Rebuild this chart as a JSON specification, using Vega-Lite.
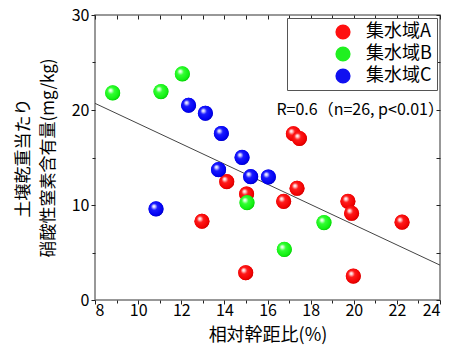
{
  "$schema": "https://vega.github.io/schema/vega-lite/v6.json",
  "width": 345,
  "height": 285,
  "autosize": {"type": "none"},
  "padding": {"left": 95, "top": 15, "right": 10, "bottom": 60},
  "background": "white",
  "config": {
    "font": "Noto Sans CJK JP",
    "view": {"stroke": "#777", "strokeWidth": 1.5},
    "axis": {"grid": false, "domain": false, "tickColor": "#222", "labelColor": "black", "titleColor": "black", "labelFont": "Noto Sans CJK JP", "titleFont": "Noto Sans CJK JP", "titleFontWeight": "normal"}
  },
  "datasets": {
    "pts": [
      {"x": 12.96, "y": 8.29, "g": "集水域A"},
      {"x": 14.11, "y": 12.46, "g": "集水域A"},
      {"x": 15.03, "y": 11.16, "g": "集水域A"},
      {"x": 14.99, "y": 2.87, "g": "集水域A"},
      {"x": 16.75, "y": 10.39, "g": "集水域A"},
      {"x": 17.2, "y": 17.5, "g": "集水域A"},
      {"x": 17.48, "y": 17.0, "g": "集水域A"},
      {"x": 17.37, "y": 11.76, "g": "集水域A"},
      {"x": 19.73, "y": 10.39, "g": "集水域A"},
      {"x": 19.9, "y": 9.13, "g": "集水域A"},
      {"x": 19.98, "y": 2.52, "g": "集水域A"},
      {"x": 22.24, "y": 8.19, "g": "集水域A"},
      {"x": 8.82, "y": 21.8, "g": "集水域B"},
      {"x": 11.06, "y": 21.94, "g": "集水域B"},
      {"x": 12.05, "y": 23.8, "g": "集水域B"},
      {"x": 15.05, "y": 10.25, "g": "集水域B"},
      {"x": 16.78, "y": 5.32, "g": "集水域B"},
      {"x": 18.62, "y": 8.15, "g": "集水域B"},
      {"x": 10.83, "y": 9.59, "g": "集水域C"},
      {"x": 12.34, "y": 20.5, "g": "集水域C"},
      {"x": 13.12, "y": 19.66, "g": "集水域C"},
      {"x": 13.86, "y": 17.53, "g": "集水域C"},
      {"x": 13.73, "y": 13.72, "g": "集水域C"},
      {"x": 14.82, "y": 15.01, "g": "集水域C"},
      {"x": 15.22, "y": 12.98, "g": "集水域C"},
      {"x": 16.04, "y": 12.95, "g": "集水域C"}
    ]
  },
  "resolve": {"axis": {"x": "independent", "y": "independent"}},
  "layer": [
    {
      "data": {"values": [{"x": 8, "y": 20.7}, {"x": 24, "y": 3.67}]},
      "mark": {"type": "line", "color": "#444", "strokeWidth": 1},
      "encoding": {
        "x": {"field": "x", "type": "quantitative", "scale": {"domain": [8, 24], "nice": false, "zero": false},
              "axis": {"orient": "top", "values": [8,9,10,11,12,13,14,15,16,17,18,19,20,21,22,23,24], "labels": false, "title": null, "tickSize": -4}},
        "y": {"field": "y", "type": "quantitative", "scale": {"domain": [0, 30], "nice": false, "zero": false},
              "axis": {"orient": "right", "values": [0,5,10,15,20,25,30], "labels": false, "title": null, "tickSize": -4}}
      }
    },
    {
      "data": {"values": [{"x": 24, "y": 20, "t": "R=0.6（n=26, p<0.01）"}]},
      "mark": {"type": "text", "align": "right", "baseline": "middle", "dx": 4, "fontSize": 16, "font": "Noto Sans CJK JP", "color": "black"},
      "encoding": {
        "x": {"field": "x", "type": "quantitative", "scale": {"domain": [8, 24], "nice": false, "zero": false},
              "axis": {"orient": "bottom", "values": [9,11,13,15,17,19,21,23], "labels": false, "title": null, "tickSize": 3}},
        "y": {"field": "y", "type": "quantitative", "scale": {"domain": [0, 30], "nice": false, "zero": false},
              "axis": {"orient": "left", "values": [5,15,25], "labels": false, "title": null, "tickSize": 3}},
        "text": {"field": "t", "type": "nominal"}
      }
    },
    {
      "data": {"name": "pts"},
      "mark": {"type": "point", "shape": "circle", "filled": true, "opacity": 1, "size": 220, "strokeWidth": 0},
      "encoding": {
        "x": {"field": "x", "type": "quantitative", "scale": {"domain": [8, 24], "nice": false, "zero": false}, "axis": null},
        "y": {"field": "y", "type": "quantitative", "scale": {"domain": [0, 30], "nice": false, "zero": false}, "axis": null},
        "color": {"field": "g", "type": "nominal",
          "scale": {"domain": ["集水域A", "集水域B", "集水域C"], "range": ["#ff1010", "#20f020", "#1010f0"]},
          "legend": {"orient": "top-right", "offset": 3, "title": null, "strokeColor": "#555", "fillColor": "white", "padding": 5, "symbolSize": 230, "symbolType": "circle", "symbolStrokeWidth": 0, "symbolOpacity": 1, "labelFontSize": 18, "labelFont": "Noto Sans CJK JP", "labelColor": "black", "rowPadding": 4, "symbolOffset": 42, "labelOffset": 14, "labelExpr": "datum.label + '\u00a0\u00a0'"}
        }
      }
    },
    {
      "data": {"name": "pts"},
      "mark": {"type": "point", "shape": "circle", "filled": true, "opacity": 1, "size": 230, "strokeWidth": 0},
      "encoding": {
        "x": {"field": "x", "type": "quantitative", "scale": {"domain": [8, 24], "nice": false, "zero": false},
              "axis": {"orient": "bottom", "values": [8,10,12,14,16,18,20,22,24], "tickSize": 4, "labelFontSize": 16, "labelPadding": -2, "title": "相対幹距比(%)", "titleFontSize": 18, "titlePadding": 8}},
        "y": {"field": "y", "type": "quantitative", "scale": {"domain": [0, 30], "nice": false, "zero": false},
              "axis": {"orient": "left", "values": [0,10,20,30], "tickSize": 4, "labelFontSize": 16, "labelPadding": 2, "title": ["土壌乾重当たり", "硝酸性窒素含有量(mg/kg)"], "titleFontSize": 17, "titleLineHeight": 25, "titlePadding": 14}},
        "fill": {
          "condition": [
            {"test": "datum.g === '集水域A'", "value": {"gradient": "radial", "x1": 0.35, "y1": 0.32, "r1": 0, "x2": 0.45, "y2": 0.45, "r2": 0.62, "stops": [{"offset": 0, "color": "#ffffff"}, {"offset": 0.12, "color": "#ffd6d6"}, {"offset": 0.35, "color": "#ff1a1a"}, {"offset": 0.8, "color": "#f00000"}, {"offset": 1, "color": "#b00000"}]}},
            {"test": "datum.g === '集水域B'", "value": {"gradient": "radial", "x1": 0.35, "y1": 0.32, "r1": 0, "x2": 0.45, "y2": 0.45, "r2": 0.62, "stops": [{"offset": 0, "color": "#ffffff"}, {"offset": 0.12, "color": "#d6ffd6"}, {"offset": 0.35, "color": "#33ff33"}, {"offset": 0.8, "color": "#10ee10"}, {"offset": 1, "color": "#00b000"}]}}
          ],
          "value": {"gradient": "radial", "x1": 0.35, "y1": 0.32, "r1": 0, "x2": 0.45, "y2": 0.45, "r2": 0.62, "stops": [{"offset": 0, "color": "#ffffff"}, {"offset": 0.12, "color": "#d6d6ff"}, {"offset": 0.35, "color": "#1a1aff"}, {"offset": 0.8, "color": "#0000f0"}, {"offset": 1, "color": "#0000a0"}]}
        }
      }
    }
  ]
}
